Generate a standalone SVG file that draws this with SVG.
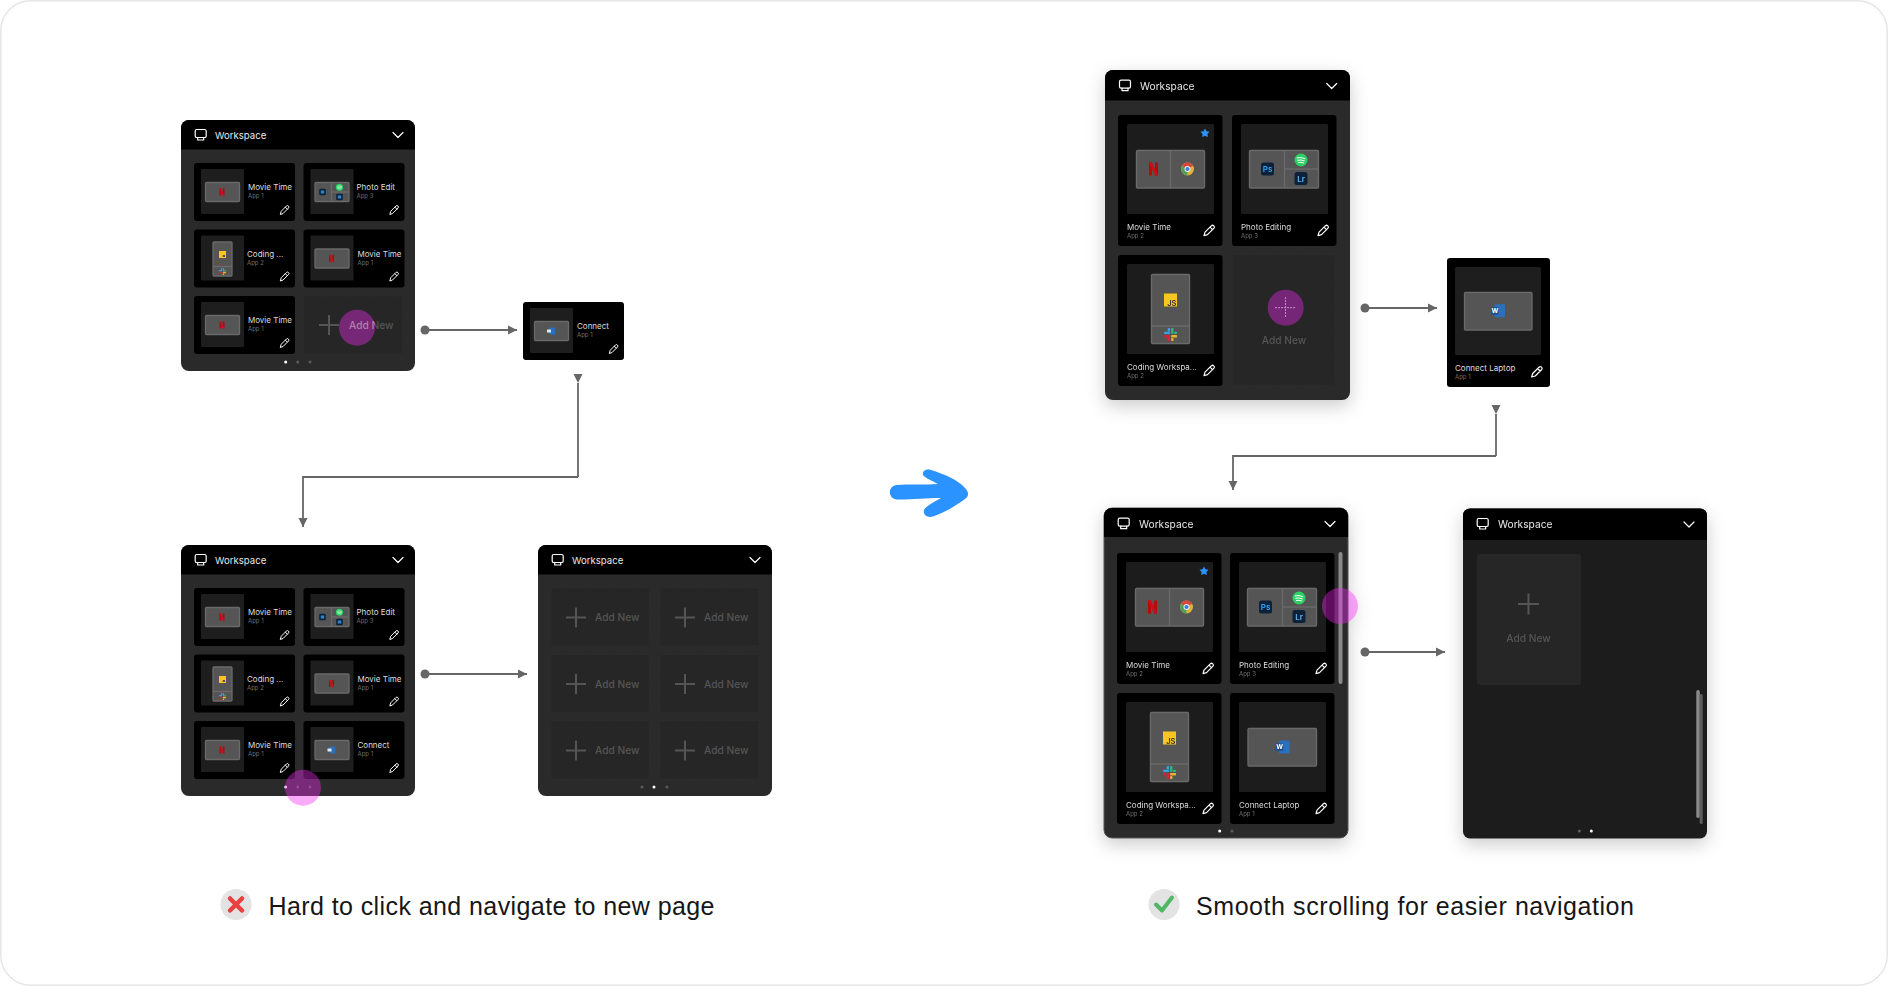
<svg xmlns="http://www.w3.org/2000/svg" xmlns:xlink="http://www.w3.org/1999/xlink" width="1888" height="986" viewBox="0 0 1888 986">
<style>
text{font-family:"Inter","Liberation Sans",sans-serif}
.panel{fill:#2a2a2a}
.panelc{fill:#1e1e1e}
.card{fill:#000}
.thumb{fill:#1e1e1e}
.inner{fill:#555;stroke:#6a6a6a;stroke-width:1.3}
.div{stroke:#6a6a6a;stroke-width:1.3;fill:none}
.dash{fill:#262626;stroke:#333;stroke-width:.8;stroke-dasharray:1 2}
.wk{fill:#e8e8e8;font-size:9.6px}
.wl{fill:#e8e8e8;font-size:10.2px}
.t{fill:#ddd;font-size:8px}
.a{fill:#6e6e6e;font-size:6px}
.add{fill:#555;font-size:10.2px;font-weight:500}
.ic{fill:none;stroke:#fff;stroke-width:1.2;stroke-linecap:round;stroke-linejoin:round}
.plus{stroke:#555;stroke-width:2;fill:none}
.touch{fill:#f02af0;fill-opacity:.4}
.on{fill:#fff}.off{fill:#5c5c5c}
.conn{fill:none;stroke:#666;stroke-width:1.8}
.big{fill:#161616;font-size:25px;font-family:"Liberation Sans",Arial,sans-serif}
.shadow{filter:url(#sh)}
</style>
<defs>
<filter id="sh" x="-20%" y="-20%" width="140%" height="140%"><feDropShadow dx="0" dy="6" stdDeviation="9" flood-color="#000" flood-opacity=".2"/></filter>
<linearGradient id="addfade" gradientUnits="userSpaceOnUse" x1="45.5" y1="0" x2="100" y2="0"><stop offset=".47" stop-color="#b080b0"/><stop offset=".48" stop-color="#555"/></linearGradient>
<marker id="ah" markerUnits="userSpaceOnUse" markerWidth="10" markerHeight="10" refX="9" refY="5" orient="auto"><path d="M0 .5L9 5L0 9.500z" fill="#666"/></marker>
<marker id="ahd" markerUnits="userSpaceOnUse" markerWidth="10" markerHeight="10" refX="9" refY="5" orient="90"><path d="M0 .5L9 5L0 9.500z" fill="#666"/></marker>
<marker id="ds" markerUnits="userSpaceOnUse" markerWidth="10" markerHeight="10" refX="5" refY="5"><circle cx="5" cy="5" r="4.500" fill="#666"/></marker>
<g id="mon" class="ic"><rect x="-5.500" y="-5.500" width="11" height="8" rx="1.600"/><path d="M-3 2.500V5H3V2.500"/></g>
<path id="chev" class="ic" d="M-5 -2.500L0 2.500L5 -2.500" stroke-width="1"/>
<path id="pen" class="ic" d="M-5 5L-4 1.500L2.500-5Q3.600-6 4.800-4.800Q6-3.600 5-2.500L-1.500 4zM1-3.500L3.500-1"/>
<g id="nf"><rect x="-4.500" y="-6.500" width="3" height="13" fill="#b20710"/><rect x="1.500" y="-6.500" width="3" height="13" fill="#b20710"/><line x1="-3.200" y1="-6.500" x2="3.200" y2="6.500" stroke="#c8101a" stroke-width="3"/></g>
<g id="chrome"><circle r="6.500" fill="#e0b23a"/><path d="M0 0L-5.600-3.200A6.500 6.500 0 0 1 5.600-3.200z" fill="#d8453a"/><path d="M0 0L-5.600-3.200A6.500 6.500 0 0 0 0 6.500z" fill="#4f9f55"/><circle r="3" fill="#eee"/><circle r="2.100" fill="#3d7fd9"/></g>
<g id="ps"><rect x="-6.500" y="-6.500" width="13" height="13" rx="2.500" fill="#0c2238"/><text y="3" text-anchor="middle" font-size="8" font-weight="600" fill="#31a8ff">Ps</text></g>
<g id="lr"><rect x="-6.500" y="-6.500" width="13" height="13" rx="2.500" fill="#0c2238"/><text y="3" text-anchor="middle" font-size="8" font-weight="600" fill="#5eb6f5">Lr</text></g>
<g id="sp"><circle r="6.500" fill="#2bd264"/><path d="M-3.800-2.200Q0-3.200 3.800-1.400M-3.300 .2Q0-.6 3.300 .8M-2.600 2.400Q0 1.800 2.600 2.900" fill="none" stroke="#fff" stroke-width="1" stroke-linecap="round"/></g>
<g id="js"><rect x="-6.500" y="-6.500" width="13" height="13" fill="#f7c623"/><text x="6" y="5.500" text-anchor="end" font-size="7.500" font-weight="600" fill="#333">JS</text></g>
<g id="sl"><rect x="-6.500" y="-2.800" width="6" height="2.400" fill="#36a5e0" rx=".8"/><rect x="-2.800" y="-6.500" width="2.400" height="3.500" fill="#36a5e0" rx=".8"/><rect x=".6" y="-6.500" width="2.400" height="6" fill="#2eb67d" rx=".8"/><rect x="3.500" y="-2.800" width="3" height="2.400" fill="#2eb67d" rx=".8"/><rect x=".6" y=".6" width="6" height="2.400" fill="#ecb22e" rx=".8"/><rect x=".6" y="3.500" width="2.400" height="3" fill="#ecb22e" rx=".8"/><rect x="-2.800" y=".6" width="2.400" height="6" fill="#e01e3a" rx=".8"/><rect x="-6.500" y=".6" width="3" height="2.400" fill="#e01e3a" rx=".8"/></g>
<g id="wd"><rect x="-3.500" y="-6.500" width="10.500" height="13" rx="1.200" fill="#2b6fbd"/><rect x="-7" y="-3.500" width="7.600" height="7.600" rx=".8" fill="#1d4f91"/><text x="-3.200" y="2.300" text-anchor="middle" font-size="6.500" font-weight="700" fill="#fff">W</text></g>
<g id="wds"><rect x="-2" y="-3.500" width="6" height="7" rx=".8" fill="#2b6fbd"/><rect x="-4" y="-1.500" width="4" height="3" fill="#dce8f7"/></g>
<g id="pss"><rect x="-3.300" y="-3.300" width="6.600" height="6.600" rx="1.200" fill="#0c2238"/><rect x="-1.700" y="-1.500" width="3.400" height="3" fill="#2f86d0"/></g>
<g id="jss"><rect x="-3.500" y="-3.500" width="7" height="7" fill="#f7c623"/><rect x=".2" y=".5" width="2.400" height="2" fill="#555"/></g>
<g id="s-t"><rect class="thumb" x="7" y="6" width="43" height="45" rx="1"/></g>
<g id="s-one"><use href="#s-t"/><rect class="inner" x="11.500" y="19.500" width="34" height="19" rx="1"/></g>
<g id="s-nf"><use href="#s-one"/><use href="#nf" transform="translate(28 29) scale(.55)"/><use href="#pen" transform="translate(90.500 47) scale(.82)"/></g>
<g id="s-ph"><use href="#s-t"/><rect class="inner" x="11.500" y="19.500" width="34" height="19" rx="1"/><path class="div" d="M28 19.500V38.500M28 29H45.500"/><use href="#pss" transform="translate(19 29)"/><use href="#sp" transform="translate(36 24.300) scale(.55)"/><use href="#pss" transform="translate(36 34)"/><use href="#pen" transform="translate(90.500 47) scale(.82)"/></g>
<g id="s-co"><use href="#s-t"/><rect class="inner" x="19" y="12.500" width="19" height="34" rx="1"/><path class="div" d="M19 37H38"/><use href="#jss" transform="translate(28.500 25)"/><use href="#sl" transform="translate(28.500 42) scale(.55)"/><use href="#pen" transform="translate(90.500 47) scale(.82)"/></g>
<g id="s-wd"><use href="#s-one"/><use href="#wds" transform="translate(28 29)"/><use href="#pen" transform="translate(90.500 47) scale(.82)"/></g>
<g id="l-t"><rect class="thumb" x="9" y="9" width="87" height="90" rx="1.500"/></g>
<g id="l-mt"><use href="#l-t"/><rect class="inner" x="18.500" y="35.500" width="68" height="37.500" rx="1"/><path class="div" d="M52.500 35.500V73"/><use href="#nf" transform="translate(35.500 54)"/><use href="#chrome" transform="translate(69.500 54)"/><path d="M87 13.500L88.500 16.300L91.500 16.800L89.400 19L89.900 22L87 20.700L84.100 22L84.600 19L82.500 16.800L85.500 16.300z" fill="#2a93ff"/><use href="#pen" transform="translate(91 115.700)"/></g>
<g id="l-ph"><use href="#l-t"/><rect class="inner" x="17.500" y="35.500" width="69" height="37.500" rx="1"/><path class="div" d="M52.500 35.500V73M52.500 54H86.500"/><use href="#ps" transform="translate(35.500 54)"/><use href="#sp" transform="translate(69 45)"/><use href="#lr" transform="translate(69 63.500)"/><use href="#pen" transform="translate(91 115.700)"/></g>
<g id="l-co"><use href="#l-t"/><rect class="inner" x="33.500" y="19.500" width="38" height="69" rx="1"/><path class="div" d="M33.500 71H71.500"/><use href="#js" transform="translate(52.500 45)"/><use href="#sl" transform="translate(52.500 79.500)"/><use href="#pen" transform="translate(91 115.700)"/></g>
</defs>
<rect width="1888" height="986" fill="#fff"/>
<rect x=".75" y=".75" width="1886.500" height="984.500" rx="30" fill="#fff" stroke="#e6e6e6" stroke-width="1.500"/>

<g id="connectors">
<line class="conn" x1="425" y1="330" x2="517" y2="330" marker-start="url(#ds)" marker-end="url(#ah)"/>
<path class="conn" d="M578 477V383" marker-end="url(#ahd)"/>
<path class="conn" d="M578 477H303V527" marker-end="url(#ah)"/>
<line class="conn" x1="425" y1="674" x2="527" y2="674" marker-start="url(#ds)" marker-end="url(#ah)"/>
<line class="conn" x1="1365" y1="308" x2="1437" y2="308" marker-start="url(#ds)" marker-end="url(#ah)"/>
<path class="conn" d="M1496 456V414" marker-end="url(#ahd)"/>
<path class="conn" d="M1496 456H1233V490" marker-end="url(#ah)"/>
<line class="conn" x1="1365" y1="652" x2="1445" y2="652" marker-start="url(#ds)" marker-end="url(#ah)"/>
</g>

<g id="panel-left-top" transform="translate(181 120)">
<rect class="panel" width="234" height="251" rx="8"/>
<path d="M0 29.500V8a8 8 0 0 1 8-8H226a8 8 0 0 1 8 8V29.500z" fill="#000"/>
<use href="#mon" transform="translate(19.700 15)"/><text class="wk" x="34" y="18.500">Workspace</text><use href="#chev" transform="translate(217 15)"/>
<g transform="translate(13 43)"><rect class="card" width="101" height="58" rx="3"/><use href="#s-nf"/><text class="t" x="54" y="27">Movie Time</text><text class="a" x="54" y="35">App 1</text></g>
<g transform="translate(122.500 43)"><rect class="card" width="101" height="58" rx="3"/><use href="#s-ph"/><text class="t" x="53" y="27">Photo Edit</text><text class="a" x="53" y="35">App 3</text></g>
<g transform="translate(13 109.500)"><rect class="card" width="101" height="58" rx="3"/><use href="#s-co"/><text class="t" x="53" y="27">Coding ...</text><text class="a" x="53" y="35">App 2</text></g>
<g transform="translate(122.500 109.500)"><rect class="card" width="101" height="58" rx="3"/><use href="#s-nf"/><text class="t" x="54" y="27">Movie Time</text><text class="a" x="54" y="35">App 1</text></g>
<g transform="translate(13 176)"><rect class="card" width="101" height="58" rx="3"/><use href="#s-nf"/><text class="t" x="54" y="27">Movie Time</text><text class="a" x="54" y="35">App 1</text></g>
<g transform="translate(122.500 176)"><rect class="dash" width="99" height="58" rx="2"/><path class="plus" d="M15.500 29H35.500M25.500 19V39"/></g>
<circle class="on" cx="104.700" cy="242" r="1.500"/><circle class="off" cx="116.700" cy="242" r="1.500"/><circle class="off" cx="129" cy="242" r="1.500"/>
<circle class="touch" cx="176" cy="207.700" r="18"/>
<g transform="translate(122.500 176)"><text class="add" x="45.500" y="33" style="fill:url(#addfade)">Add New</text></g>
</g>

<g id="card-connect-left" transform="translate(523 302)">
<rect class="card" width="101" height="58" rx="3"/><use href="#s-wd"/><text class="t" x="54" y="27">Connect</text><text class="a" x="54" y="35">App 1</text>
</g>

<g id="panel-left-bottom" transform="translate(181 545)">
<rect class="panel" width="234" height="251" rx="8"/>
<path d="M0 29.500V8a8 8 0 0 1 8-8H226a8 8 0 0 1 8 8V29.500z" fill="#000"/>
<use href="#mon" transform="translate(19.700 15)"/><text class="wk" x="34" y="18.500">Workspace</text><use href="#chev" transform="translate(217 15)"/>
<g transform="translate(13 43)"><rect class="card" width="101" height="58" rx="3"/><use href="#s-nf"/><text class="t" x="54" y="27">Movie Time</text><text class="a" x="54" y="35">App 1</text></g>
<g transform="translate(122.500 43)"><rect class="card" width="101" height="58" rx="3"/><use href="#s-ph"/><text class="t" x="53" y="27">Photo Edit</text><text class="a" x="53" y="35">App 3</text></g>
<g transform="translate(13 109.500)"><rect class="card" width="101" height="58" rx="3"/><use href="#s-co"/><text class="t" x="53" y="27">Coding ...</text><text class="a" x="53" y="35">App 2</text></g>
<g transform="translate(122.500 109.500)"><rect class="card" width="101" height="58" rx="3"/><use href="#s-nf"/><text class="t" x="54" y="27">Movie Time</text><text class="a" x="54" y="35">App 1</text></g>
<g transform="translate(13 176)"><rect class="card" width="101" height="58" rx="3"/><use href="#s-nf"/><text class="t" x="54" y="27">Movie Time</text><text class="a" x="54" y="35">App 1</text></g>
<g transform="translate(122.500 176)"><rect class="card" width="101" height="58" rx="3"/><use href="#s-wd"/><text class="t" x="54" y="27">Connect</text><text class="a" x="54" y="35">App 1</text></g>
<circle class="on" cx="104.700" cy="242" r="1.500"/><circle class="off" cx="116.700" cy="242" r="1.500"/><circle class="off" cx="129" cy="242" r="1.500"/>
<circle class="touch" cx="122" cy="242.700" r="18"/>
</g>

<g id="panel-left-empty" transform="translate(538 545)">
<rect class="panel" width="234" height="251" rx="8"/>
<path d="M0 29.500V8a8 8 0 0 1 8-8H226a8 8 0 0 1 8 8V29.500z" fill="#000"/>
<use href="#mon" transform="translate(19.700 15)"/><text class="wk" x="34" y="18.500">Workspace</text><use href="#chev" transform="translate(217 15)"/>
<g transform="translate(13 43)"><rect class="dash" width="98.500" height="58" rx="2"/><path class="plus" d="M15 29.500H35M25 19.500V39.500"/><text class="add" x="44" y="33">Add New</text></g>
<g transform="translate(122 43)"><rect class="dash" width="99" height="58" rx="2"/><path class="plus" d="M15 29.500H35M25 19.500V39.500"/><text class="add" x="44" y="33">Add New</text></g>
<g transform="translate(13 109.500)"><rect class="dash" width="98.500" height="58" rx="2"/><path class="plus" d="M15 29.500H35M25 19.500V39.500"/><text class="add" x="44" y="33">Add New</text></g>
<g transform="translate(122 109.500)"><rect class="dash" width="99" height="58" rx="2"/><path class="plus" d="M15 29.500H35M25 19.500V39.500"/><text class="add" x="44" y="33">Add New</text></g>
<g transform="translate(13 176)"><rect class="dash" width="98.500" height="58" rx="2"/><path class="plus" d="M15 29.500H35M25 19.500V39.500"/><text class="add" x="44" y="33">Add New</text></g>
<g transform="translate(122 176)"><rect class="dash" width="99" height="58" rx="2"/><path class="plus" d="M15 29.500H35M25 19.500V39.500"/><text class="add" x="44" y="33">Add New</text></g>
<circle class="off" cx="104" cy="242" r="1.500"/><circle class="on" cx="116" cy="242" r="1.500"/><circle class="off" cx="129" cy="242" r="1.500"/>
</g>

<path id="blue-arrow" transform="translate(0 1)" d="M897 484C908 483 925 484 938 483C933 480 925 477 923 474C922 470 926 467.500 931 469C944 473 958 479 965 487C969 491 969 495 965 498C955 505 944 512 933 515.500C927 517 923 514 924 509C926 505 934 501 941 497C925 497 908 499 897 498.500C888 498 887 485 897 484z" fill="#2a93ff"/>

<g id="panel-right-top" class="shadow" transform="translate(1105 70)">
<rect class="panel" width="245" height="330" rx="8"/>
<path d="M0 30.500V8a8 8 0 0 1 8-8H237a8 8 0 0 1 8 8V30.500z" fill="#000"/>
<use href="#mon" transform="translate(20 15.700)"/><text class="wl" x="35" y="19.500">Workspace</text><use href="#chev" transform="translate(226.700 16)"/>
<g transform="translate(13 45)"><rect class="card" width="104.500" height="131" rx="3"/><use href="#l-mt"/><text class="t" x="9" y="114.500">Movie Time</text><text class="a" x="9" y="122.500">App 2</text></g>
<g transform="translate(127 45)"><rect class="card" width="104.500" height="131" rx="3"/><use href="#l-ph"/><text class="t" x="9" y="114.500">Photo Editing</text><text class="a" x="9" y="122.500">App 3</text></g>
<g transform="translate(13 185)"><rect class="card" width="104.500" height="131" rx="3"/><use href="#l-co"/><text class="t" x="9" y="114.500">Coding Workspa...</text><text class="a" x="9" y="122.500">App 2</text></g>
<g transform="translate(128 185)"><rect class="dash" width="102" height="130" rx="2"/><text class="add" x="51" y="89" text-anchor="middle">Add New</text></g>
<circle class="touch" cx="180.700" cy="237.700" r="18"/>
<path d="M170 237.700H191M180.500 227V248" fill="none" stroke="#c98ac9" stroke-width="1" stroke-dasharray="2 1"/>
</g>

<g id="card-connect-right" transform="translate(1447 258)">
<rect class="card" width="103" height="129" rx="3"/><rect class="thumb" x="8" y="9" width="86" height="88" rx="1.500"/><rect class="inner" x="17.500" y="34.500" width="67.500" height="37.500" rx="1"/><use href="#wd" transform="translate(51 52.700)"/><use href="#pen" transform="translate(89.700 114)"/><text class="t" x="8" y="113">Connect Laptop</text><text class="a" x="8" y="121">App 1</text>
</g>

<g id="panel-right-bottom" class="shadow" transform="translate(1104 508)">
<rect class="panel" width="244" height="330" rx="8" stroke="#555" stroke-width="1"/>
<path d="M0 29V8a8 8 0 0 1 8-8H236a8 8 0 0 1 8 8V29z" fill="#000"/>
<use href="#mon" transform="translate(19.700 15.700)"/><text class="wl" x="35" y="19.500">Workspace</text><use href="#chev" transform="translate(226 16)"/>
<g transform="translate(13 45)"><rect class="card" width="104.500" height="131" rx="3"/><use href="#l-mt"/><text class="t" x="9" y="114.500">Movie Time</text><text class="a" x="9" y="122.500">App 2</text></g>
<g transform="translate(126 45)"><rect class="card" width="104.500" height="131" rx="3"/><use href="#l-ph"/><text class="t" x="9" y="114.500">Photo Editing</text><text class="a" x="9" y="122.500">App 3</text></g>
<g transform="translate(13 185)"><rect class="card" width="104.500" height="131" rx="3"/><use href="#l-co"/><text class="t" x="9" y="114.500">Coding Workspa...</text><text class="a" x="9" y="122.500">App 2</text></g>
<g transform="translate(126 185)"><rect class="card" width="104.500" height="131" rx="3"/><use href="#l-t"/><rect class="inner" x="18" y="35.500" width="68.500" height="37.500" rx="1"/><use href="#wd" transform="translate(52.700 54)"/><use href="#pen" transform="translate(91 115.700)"/><text class="t" x="9" y="114.500">Connect Laptop</text><text class="a" x="9" y="122.500">App 1</text></g>
<rect x="234.500" y="44" width="4" height="132" rx="2" fill="#8a8a8a"/>
<circle class="on" cx="115.700" cy="323" r="1.500"/><circle class="off" cx="128" cy="323" r="1.500"/>
<circle class="touch" cx="236" cy="98" r="18"/>
</g>

<g id="panel-right-scrolled" class="shadow" transform="translate(1463 508.500)">
<rect class="panelc" width="244" height="330" rx="7"/>
<path d="M0 31.500V7a7 7 0 0 1 7-7H237a7 7 0 0 1 7 7V31.500z" fill="#000"/>
<use href="#mon" transform="translate(19.700 15.500)"/><text class="wl" x="35" y="19.500">Workspace</text><use href="#chev" transform="translate(226 16)"/>
<rect x="13.700" y="45.500" width="104.500" height="131" rx="4" fill="#262626"/><path class="plus" d="M55 95.500H76M65.500 85V106"/><text class="add" x="65.500" y="133.500" text-anchor="middle">Add New</text>
<rect x="233.300" y="181.500" width="3.500" height="128" rx="1.700" fill="#8a8a8a"/><rect x="236.700" y="185.500" width="3" height="130" rx="1.500" fill="#5c5c5c"/>
<circle class="off" cx="116.300" cy="322.500" r="1.500"/><circle class="on" cx="128.300" cy="322.500" r="1.500"/>
</g>

<g id="caption-left">
<circle cx="236" cy="904.500" r="15.500" fill="#e3e3e3"/><path d="M230 898.500L242 910.500M242 898.500L230 910.500" stroke="#e8413f" stroke-width="4.500" stroke-linecap="round"/>
<text class="big" x="268.500" y="915" textLength="446">Hard to click and navigate to new page</text>
</g>
<g id="caption-right">
<circle cx="1164" cy="904.500" r="15.500" fill="#e3e3e3"/><path d="M1156 904.500L1162 910.500L1172 897.500" fill="none" stroke="#4fb765" stroke-width="4" stroke-linecap="round" stroke-linejoin="round"/>
<text class="big" x="1196" y="915" textLength="438">Smooth scrolling for easier navigation</text>
</g>
</svg>
